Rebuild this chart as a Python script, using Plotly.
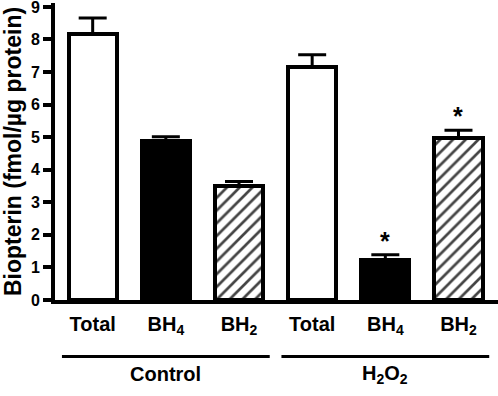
import plotly.graph_objects as go

# ---- data ----
categories = ["Total", "BH4", "BH2", "Total", "BH4", "BH2"]
tick_labels = ["Total", "BH<sub>4</sub>", "BH<sub>2</sub>",
               "Total", "BH<sub>4</sub>", "BH<sub>2</sub>"]
values = [8.18, 4.87, 3.49, 7.17, 1.22, 4.96]
errors = [0.48, 0.14, 0.15, 0.36, 0.17, 0.25]
significant = [False, False, False, False, True, True]
group_names = ["Control", "H<sub>2</sub>O<sub>2</sub>"]
group_members = [[0, 1, 2], [3, 4, 5]]
y_ticks = [0, 1, 2, 3, 4, 5, 6, 7, 8, 9]

# ---- styles ----
fill_colors = ["white", "black", "white", "white", "black", "white"]
patterns = ["", "", "/", "", "", "/"]
FONT = "Liberation Sans, Arial, Helvetica, sans-serif"

xpos = list(range(len(categories)))

fig = go.Figure()
fig.add_trace(go.Bar(
    x=xpos, y=values, width=0.66,
    marker=dict(color=fill_colors,
                line=dict(color="black", width=4),
                pattern=dict(shape=patterns, fgcolor="black", bgcolor="white",
                             fgopacity=1, size=9, solidity=0.3)),
    error_y=dict(type="data", symmetric=False, array=errors,
                 arrayminus=[0] * len(errors), color="black",
                 thickness=3, width=14),
    hoverinfo="skip",
))

# significance stars
for i, sig in enumerate(significant):
    if sig:
        fig.add_annotation(x=xpos[i], y=values[i] + errors[i], xref="x", yref="y",
                           text="<b>*</b>", showarrow=False, yanchor="bottom",
                           yshift=-2,
                           font=dict(family=FONT, size=25, color="black"))

# group lines and labels
for name, members in zip(group_names, group_members):
    x0 = xpos[members[0]] - 0.42
    x1 = xpos[members[-1]] + 0.42
    fig.add_shape(type="line", xref="x", yref="paper", x0=x0, x1=x1,
                  y0=-0.19, y1=-0.19, line=dict(color="black", width=3))
    fig.add_annotation(x=(xpos[members[0]] + xpos[members[-1]]) / 2, y=-0.25,
                       xref="x", yref="paper", text="<b>" + name + "</b>",
                       showarrow=False, yanchor="middle",
                       font=dict(family=FONT, size=20, color="black"))

fig.update_layout(
    width=498, height=396,
    margin=dict(l=55, r=0, t=3, b=96),
    plot_bgcolor="white", paper_bgcolor="white",
    showlegend=False,
    font=dict(family=FONT, color="black"),
    bargap=0,
)
fig.update_xaxes(
    range=[-0.515, 5.54], tickmode="array", tickvals=xpos, ticktext=tick_labels,
    showline=True, linecolor="black", linewidth=4, ticks="",
    showgrid=False, zeroline=False, automargin=False, ticklabelstandoff=3,
    ticklabeloverflow="allow",
    tickfont=dict(family=FONT, size=20, color="black", weight="bold"),
)
fig.update_yaxes(
    range=[0, 9.12], tickmode="array", tickvals=y_ticks,
    showline=True, linecolor="black", linewidth=4,
    ticks="outside", ticklen=8, tickwidth=4, tickcolor="black",
    showgrid=False, zeroline=False, automargin=False,
    ticklabeloverflow="allow",
    tickfont=dict(family=FONT, size=16, color="black", weight="bold"),
    title=dict(text="Biopterin (fmol/µg protein)", standoff=6,
               font=dict(family=FONT, size=23, color="black", weight="bold")),
)

fig.write_html("out.html", config={"displayModeBar": False},
               post_script="document.body.style.margin='0';document.body.style.padding='0';")
